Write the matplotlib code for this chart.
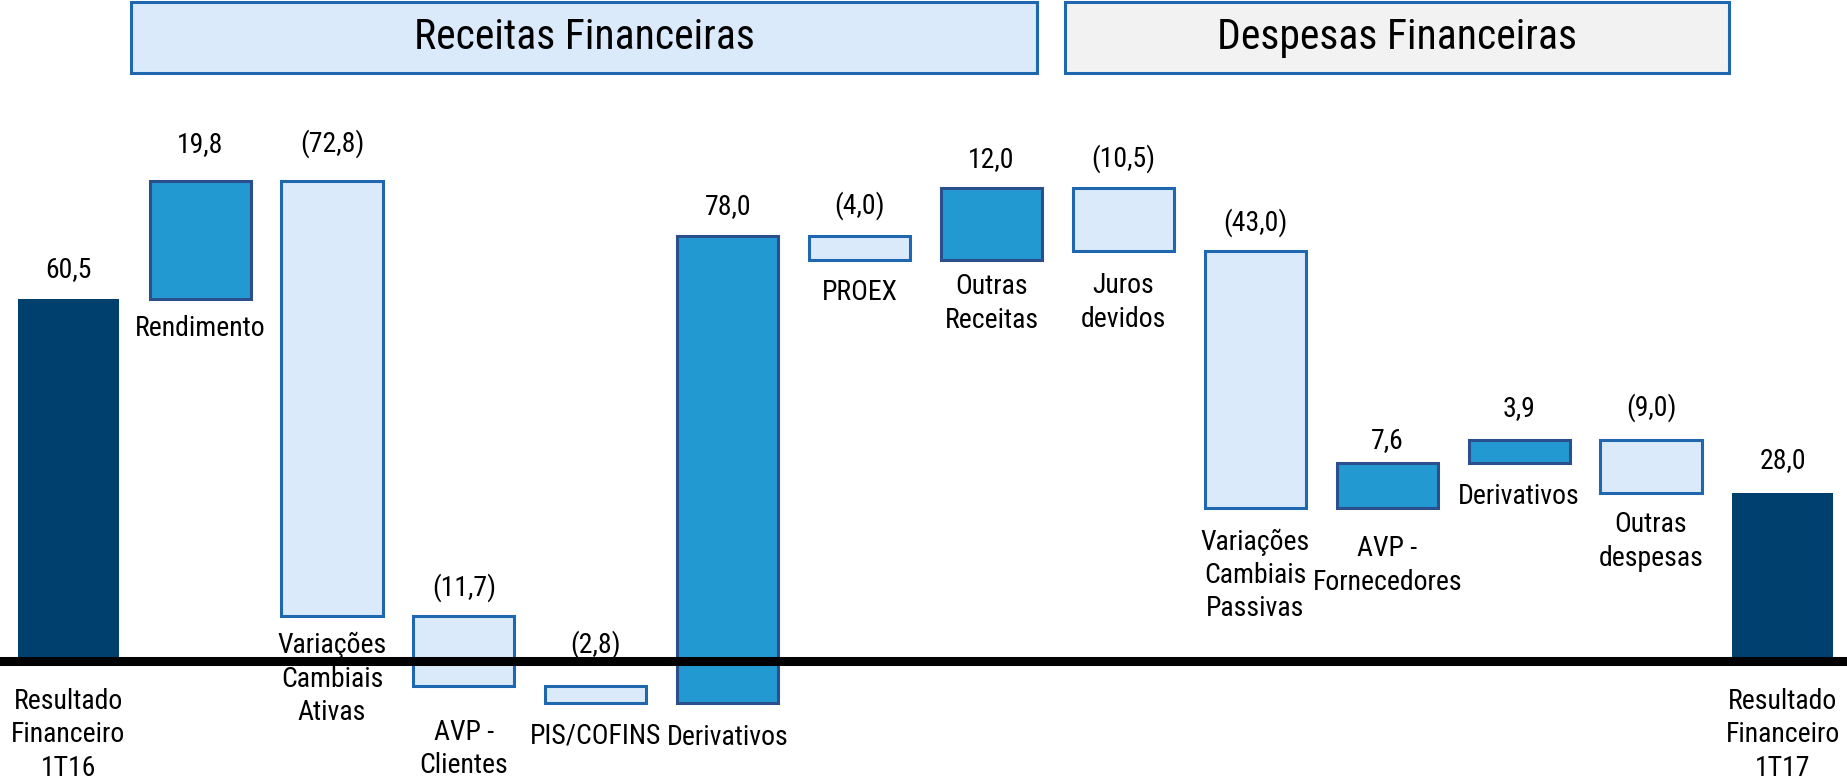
import matplotlib
matplotlib.use("Agg")
import matplotlib.pyplot as plt
from matplotlib.patches import Rectangle
from matplotlib import font_manager

# data (R$ milhões)
categories = [
    "Resultado\nFinanceiro\n1T16", "Rendimento", "Variações\nCambiais\nAtivas",
    "AVP -\nClientes", "PIS/COFINS", "Derivativos", "PROEX", "Outras\nReceitas",
    "Juros\ndevidos", "Variações\nCambiais\nPassivas", "AVP -\nFornecedores",
    "Derivativos", "Outras\ndespesas", "Resultado\nFinanceiro\n1T17",
]
values = [60.5, 19.8, -72.8, -11.7, -2.8, 78.0, -4.0, 12.0, -10.5, -43.0, 7.6, 3.9, -9.0, 28.0]
kinds = ["total", "step", "step", "step", "step", "step", "step", "step",
         "step", "step", "step", "step", "step", "total"]
headers = ["Receitas Financeiras", "Despesas Financeiras"]

# layout tweaks (pixels): gap above bar for value, gap below bar for name
value_gap = [22, 29, 29, 21, 34, 22, 23, 21, 22, 21, 15, 24, 24, 25]
name_gap = [27, 16, 16, 33, 20, 21, 19, 13, 21, 20, 27, 20, 18, 27]

NAVY = "#00406F"
BLUE = "#2399D1"
BLUE_EDGE = "#2A4F8C"
LIGHT = "#DAEAFA"
LIGHT_EDGE = "#1F68B0"
GREY = "#F2F2F2"

# condensed sans if there is one, else Liberation Sans
available = {f.name for f in font_manager.fontManager.ttflist}
fam = "Liberation Sans"
for cand in ["Roboto Condensed", "Liberation Sans Narrow", "PT Sans Narrow", "Archivo Narrow"]:
    if cand in available:
        fam = cand
        break
plt.rcParams["font.family"] = [fam, "DejaVu Sans"]


def fmt(v):
    s = f"{abs(v):.1f}".replace(".", ",")
    return f"({s})" if v < 0 else s


def px(p):
    return p * 72 / 100


fig = plt.figure(figsize=(18.47, 7.79), dpi=100)
ax = fig.add_axes([0, 0, 1, 1])
ax.set_xlim(-0.517, 13.486)
ax.set_ylim(-19.73, 110.5)
ax.axis("off")

level = 0.0
for i, (v, k) in enumerate(zip(values, kinds)):
    if k == "total":
        bottom, height = 0.0, v
        level = v
        face, edge, lw = NAVY, NAVY, 0
    else:
        bottom = level if v > 0 else level + v
        height = abs(v)
        level += v
        if v > 0:
            face, edge = BLUE, BLUE_EDGE
        else:
            face, edge = LIGHT, LIGHT_EDGE
        lw = 2.2
    ax.bar(i, height, bottom=bottom, width=0.766, color=face,
           edgecolor=edge, linewidth=lw, zorder=2)
    top = bottom + height
    ax.annotate(fmt(v), xy=(i, top), xytext=(0, px(value_gap[i])),
                textcoords="offset points", ha="center", va="baseline",
                fontsize=20, color="black")
    ax.annotate(categories[i], xy=(i, bottom), xytext=(0, -px(name_gap[i])),
                textcoords="offset points", ha="center", va="top",
                fontsize=20, color="black", linespacing=1.3)

ax.axhline(0, color="black", linewidth=6.5, zorder=3)

# header boxes (axes fraction)
boxes = [(0.0709, 0.5615, LIGHT), (0.5766, 0.9361, GREY)]
for (x0, x1, fc), title in zip(boxes, headers):
    ax.add_patch(Rectangle((x0, 0.9063), x1 - x0, 0.0911, transform=ax.transAxes,
                           facecolor=fc, edgecolor=LIGHT_EDGE, linewidth=2.2,
                           clip_on=False, zorder=4))
    ax.text((x0 + x1) / 2, 0.9518, title, transform=ax.transAxes,
            ha="center", va="center", fontsize=30, zorder=5)

fig.savefig("out.png", dpi=100)
